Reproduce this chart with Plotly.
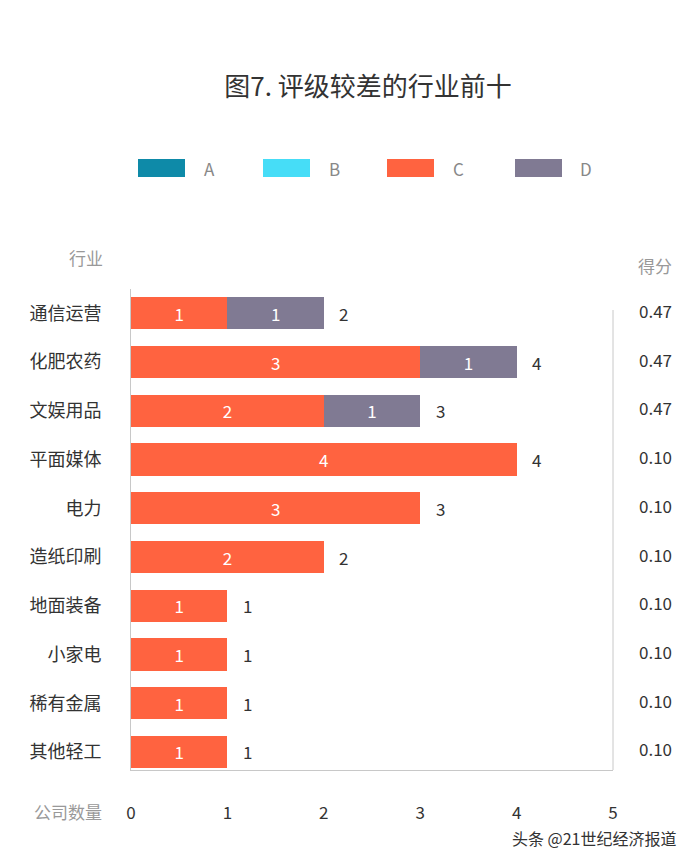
import plotly.graph_objects as go

industries = ["通信运营", "化肥农药", "文娱用品", "平面媒体", "电力", "造纸印刷", "地面装备", "小家电", "稀有金属", "其他轻工"]
grade_a = [0, 0, 0, 0, 0, 0, 0, 0, 0, 0]
grade_b = [0, 0, 0, 0, 0, 0, 0, 0, 0, 0]
grade_c = [1, 3, 2, 4, 3, 2, 1, 1, 1, 1]
grade_d = [1, 1, 1, 0, 0, 0, 0, 0, 0, 0]
scores = ["0.47", "0.47", "0.47", "0.10", "0.10", "0.10", "0.10", "0.10", "0.10", "0.10"]
series_names = ["A", "B", "C", "D"]
series_colors = ["#0E8AA8", "#46DDF7", "#FF6340", "#807A93"]
x_ticks = [0, 1, 2, 3, 4, 5]

FONT = "Noto Sans CJK SC"
W, H = 700, 856
L, R, T, B = 131, 87, 289, 86
ph = H - T - B
pw = W - L - R

def px_x(x):
    return (x - L) / pw

def px_y(y):
    return (H - B - y) / ph

fig = go.Figure()
series_vals = [grade_a, grade_b, grade_c, grade_d]
for name, vals, col in zip(series_names, series_vals, series_colors):
    fig.add_trace(go.Bar(
        y=industries, x=vals, orientation="h", name=name,
        marker=dict(color=col, line=dict(width=0)),
        text=[str(v) if v > 0 else "" for v in vals],
        texttemplate="%{text}", textposition="inside", insidetextanchor="middle",
        textangle=0, constraintext="none",
        textfont=dict(color="white", size=17, family=FONT),
        width=0.66, showlegend=False, hoverinfo="skip",
    ))

totals = [a + b + c + d for a, b, c, d in zip(grade_a, grade_b, grade_c, grade_d)]
for ind, t in zip(industries, totals):
    fig.add_annotation(x=t, y=ind, xref="x", yref="y", text=str(t), showarrow=False,
                       xanchor="center", xshift=20, font=dict(size=17, color="#333333", family=FONT))

for ind, s in zip(industries, scores):
    fig.add_annotation(x=px_x(655), y=ind, xref="paper", yref="y", text=s, showarrow=False,
                       xanchor="center", yshift=3, font=dict(size=17, color="#333333", family=FONT))

# manual legend with wide swatches
legend_x = [138, 263, 387, 515]
for lx, name, col in zip(legend_x, series_names, series_colors):
    fig.add_shape(type="rect", xref="paper", yref="paper",
                  x0=px_x(lx), x1=px_x(lx + 47),
                  y0=px_y(177), y1=px_y(159),
                  fillcolor=col, line=dict(width=0), layer="above")
    fig.add_annotation(xref="paper", yref="paper", x=px_x(lx + 71), y=px_y(168),
                       text=name, showarrow=False, xanchor="center", yanchor="middle",
                       font=dict(size=17, color="#888888", family=FONT))

# right border line
fig.add_shape(type="line", xref="paper", yref="paper", x0=1, x1=1, y0=0, y1=px_y(310),
              line=dict(color="#c8c8c8", width=1))

fig.add_annotation(xref="paper", yref="paper", x=px_x(86), y=px_y(257), text="行业", showarrow=False,
                   xanchor="center", yanchor="middle", font=dict(size=17, color="#999999", family=FONT))
fig.add_annotation(xref="paper", yref="paper", x=px_x(655), y=px_y(265), text="得分", showarrow=False,
                   xanchor="center", yanchor="middle", font=dict(size=17, color="#999999", family=FONT))
fig.add_annotation(xref="paper", yref="paper", x=px_x(68), y=px_y(811), text="公司数量", showarrow=False,
                   xanchor="center", yanchor="middle", font=dict(size=17, color="#999999", family=FONT))
fig.add_annotation(xref="paper", yref="paper", x=px_x(594), y=px_y(838), text="头条 @21世纪经济报道", showarrow=False,
                   xanchor="center", yanchor="middle", font=dict(size=16, color="#333333", family=FONT))

fig.update_layout(
    width=W, height=H, barmode="stack",
    margin=dict(l=L, r=R, t=T, b=B),
    paper_bgcolor="white", plot_bgcolor="white",
    font=dict(family=FONT, color="#333333"),
    title=dict(text="图7. 评级较差的行业前十", x=368 / 700, xanchor="center", y=1 - 87 / 856, yanchor="middle",
               font=dict(size=26, color="#333333", family=FONT)),
    xaxis=dict(range=[0, 5], tickvals=x_ticks, showgrid=False, zeroline=False, showline=True,
               linecolor="#c8c8c8", linewidth=1, ticks="", ticklabelstandoff=28,
               tickfont=dict(size=17, color="#333333", family=FONT), fixedrange=True),
    yaxis=dict(range=[9.37, -0.5], showgrid=False, zeroline=False, showline=True,
               linecolor="#c8c8c8", linewidth=1, ticks="", ticklabelstandoff=25,
               tickfont=dict(size=18, color="#333333", family=FONT), fixedrange=True),
)

fig.write_html("out.html", config={"displayModeBar": False},
               post_script="document.body.style.margin='0';document.body.style.overflow='hidden';")
